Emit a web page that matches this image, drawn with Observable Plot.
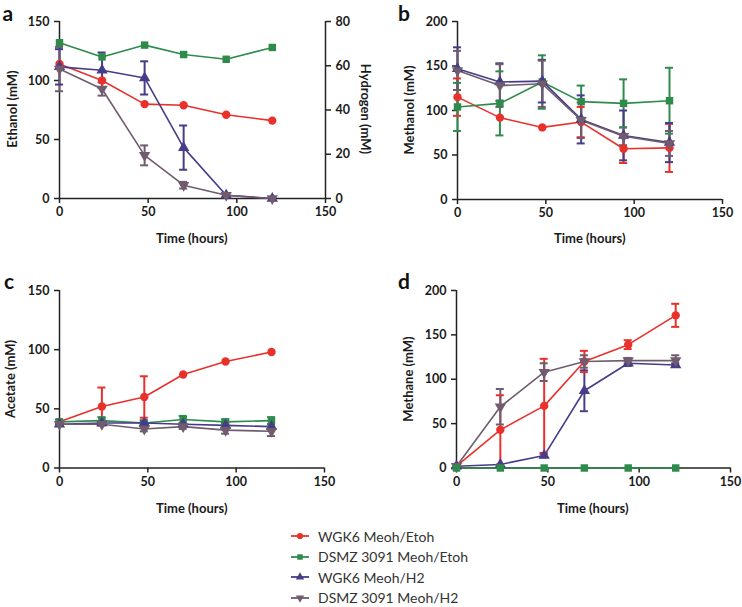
<!DOCTYPE html>
<html>
<head>
<meta charset="utf-8">
<script src="https://cdn.jsdelivr.net/npm/d3@7"></script>
<script src="https://cdn.jsdelivr.net/npm/@observablehq/plot@0.6"></script>
<style>
  body { margin: 0; background: #fff; }
  #root { position: relative; width: 742px; height: 607px; background: #fff; font-family: Lato, "Open Sans", sans-serif; overflow: hidden; }
  .lbl { position: absolute; font-weight: 700; font-size: 13px; color: #1a1a1a; white-space: nowrap; }
  .letter { position: absolute; font-weight: 700; font-size: 21px; color: #111; line-height: 1; }
  .legend { position: absolute; left: 290px; top: 526px; font-size: 14px; color: #333; }
  .legend .row { height: 20.5px; display: flex; align-items: center; }
  .legend svg { margin-right: 8px; }
</style>
</head>
<body>
<div id="root"></div>
<script>
// ---------- data ----------
const times = [0, 24, 48, 70, 94, 120];
const seriesNames = ["WGK6 Meoh/Etoh", "DSMZ 3091 Meoh/Etoh", "WGK6 Meoh/H2", "DSMZ 3091 Meoh/H2"];
const seriesColors = ["#e8312b", "#2f8b4c", "#463c88", "#705c6e"];
const xTicks = [0, 50, 100, 150];

// panel a: ethanol (left axis) and hydrogen (right axis)
const ethanolWGK6 = [114, 100, 80, 79, 71, 66];
const ethanolDSMZ = [132, 120, 130, 122, 118, 128];
const hydrogenWGK6 = [59.5, 58, 54.5, 23, 1.5, 0];
const hydrogenWGK6Err = [8, 8, 7.5, 10, 1, 0];
const hydrogenDSMZ = [58.5, 49.5, 19.5, 6, 1.5, 0];
const hydrogenDSMZErr = [10, 3, 4.5, 1.5, 0.5, 0];
const ethanolTicks = [0, 50, 100, 150];
const hydrogenTicks = [0, 20, 40, 60, 80];

// panel b: methanol
const methanolWGK6Etoh = [115, 92, 81, 87, 57, 58];
const methanolWGK6EtohErr = [21, 0, 0, 17, 16, 27];
const methanolDSMZEtoh = [104, 108, 132, 110, 108, 111];
const methanolDSMZEtohErr = [27, 36, 30, 18, 27, 37];
const methanolWGK6H2 = [147, 132, 133, 90, 72, 64];
const methanolWGK6H2Err = [24, 21, 24, 27, 28, 22];
const methanolDSMZH2 = [145, 128, 130, 89, 71, 63];
const methanolDSMZH2Err = [22, 24, 26, 20, 10, 14];
const methanolTicks = [0, 50, 100, 150, 200];

// panel c: acetate
const acetateWGK6Etoh = [39, 52, 60, 79, 90, 98];
const acetateWGK6EtohErr = [0, 16, 17.5, 0, 0, 0];
const acetateDSMZEtoh = [39, 40, 38, 41, 39, 40];
const acetateDSMZEtohErr = [2, 3, 2, 3, 2, 3];
const acetateWGK6H2 = [37, 38, 38, 37, 36, 35];
const acetateWGK6H2Err = [1, 1, 2, 1, 2, 2];
const acetateDSMZH2 = [37, 37, 33, 35, 32, 31];
const acetateDSMZH2Err = [1, 1, 2, 2, 3, 4];
const acetateTicks = [0, 50, 100, 150];

// panel d: methane
const methaneWGK6Etoh = [2, 43, 70, 120, 139, 172];
const methaneWGK6EtohErr = [0, 39, 53, 12, 5, 13];
const methaneDSMZEtoh = [0, 0, 0, 0, 0, 0];
const methaneDSMZEtohErr = [0, 0, 0, 0, 0, 0];
const methaneWGK6H2 = [2, 4, 14, 87, 118, 116];
const methaneWGK6H2Err = [0, 0, 2, 23, 3, 2];
const methaneDSMZH2 = [2, 69, 108, 120, 121, 121];
const methaneDSMZH2Err = [0, 20, 10, 7, 3, 6];
const methaneTicks = [0, 50, 100, 150, 200];

// ---------- helpers ----------
const sqrt3 = Math.sqrt(3);
const triangleDown = {
  draw(context, size) {
    const y = -Math.sqrt(size / (sqrt3 * 3));
    context.moveTo(0, -y * 2);
    context.lineTo(-sqrt3 * y, y);
    context.lineTo(sqrt3 * y, y);
    context.closePath();
  }
};
const seriesSymbols = [d3.symbolCircle, d3.symbolSquare, d3.symbolTriangle, triangleDown];

function rows(series, values, errs, scale = 1) {
  return values.map((v, i) => ({series, t: times[i], v: v * scale, e: (errs ? errs[i] : 0) * scale}));
}

function panel({data, yMax, yTicks, width, height, left, top, mL, mR, mT, mB, extra = []}) {
  const err = data.filter(d => d.e > 0);
  const p = Plot.plot({
    width, height,
    marginLeft: mL, marginRight: mR, marginTop: mT, marginBottom: mB,
    style: {fontFamily: "Lato, sans-serif", fontSize: "12.5px", fontWeight: "700", color: "#1a1a1a", background: "transparent", overflow: "visible"},
    x: {domain: [0, 150]},
    y: {domain: [0, yMax]},
    color: {domain: seriesNames, range: seriesColors},
    symbol: {domain: seriesNames, range: seriesSymbols},
    marks: [
      Plot.axisX({ticks: xTicks, tickSize: 5, tickPadding: 4, label: null, stroke: "#222", strokeWidth: 1.5}),
      Plot.axisY({ticks: yTicks, tickSize: 5, tickPadding: 5, label: null, stroke: "#222", strokeWidth: 1.5}),
      ...extra,
      Plot.ruleX([0], {stroke: "#222", strokeWidth: 1.5}),
      Plot.ruleY([0], {stroke: "#222", strokeWidth: 1.5}),
      Plot.line(data, {x: "t", y: "v", stroke: "series", strokeWidth: 1.6}),
      Plot.ruleX(err, {x: "t", y1: d => d.v - d.e, y2: d => d.v + d.e, stroke: "series", strokeWidth: 2}),
      Plot.ruleY(err, {y: d => d.v + d.e, x1: "t", x2: "t", insetLeft: -4, insetRight: -4, stroke: "series", strokeWidth: 2}),
      Plot.ruleY(err, {y: d => Math.max(0, d.v - d.e), x1: "t", x2: "t", insetLeft: -4, insetRight: -4, stroke: "series", strokeWidth: 2}),
      Plot.dot(data, {x: "t", y: "v", fill: "series", symbol: "series", r: 4.2, stroke: "none"})
    ]
  });
  p.style.position = "absolute";
  p.style.left = left + "px";
  p.style.top = top + "px";
  return p;
}

const root = document.getElementById("root");
const h2Scale = 150 / 80;

// panel a
const dataA = [
  ...rows(seriesNames[0], ethanolWGK6),
  ...rows(seriesNames[1], ethanolDSMZ),
  ...rows(seriesNames[2], hydrogenWGK6, hydrogenWGK6Err, h2Scale),
  ...rows(seriesNames[3], hydrogenDSMZ, hydrogenDSMZErr, h2Scale)
];
root.appendChild(panel({
  data: dataA, yMax: 150, yTicks: ethanolTicks, width: 371, height: 250, left: 0, top: 0,
  mL: 59, mR: 46, mT: 21, mB: 52,
  extra: [
    Plot.axisY(hydrogenTicks.map(v => v * h2Scale), {anchor: "right", tickSize: 5, tickPadding: 5, label: null,
      tickFormat: d => String(Math.round(d / h2Scale)), stroke: "#222", strokeWidth: 1.5}),
    Plot.ruleX([150], {stroke: "#222", strokeWidth: 1.5})
  ]
}));

// panel b
const dataB = [
  ...rows(seriesNames[0], methanolWGK6Etoh, methanolWGK6EtohErr),
  ...rows(seriesNames[1], methanolDSMZEtoh, methanolDSMZEtohErr),
  ...rows(seriesNames[2], methanolWGK6H2, methanolWGK6H2Err),
  ...rows(seriesNames[3], methanolDSMZH2, methanolDSMZH2Err)
];
root.appendChild(panel({
  data: dataB, yMax: 200, yTicks: methanolTicks, width: 371, height: 250, left: 371, top: 0,
  mL: 86, mR: 20, mT: 21, mB: 51
}));

// panel c
const dataC = [
  ...rows(seriesNames[0], acetateWGK6Etoh, acetateWGK6EtohErr),
  ...rows(seriesNames[1], acetateDSMZEtoh, acetateDSMZEtohErr),
  ...rows(seriesNames[2], acetateWGK6H2, acetateWGK6H2Err),
  ...rows(seriesNames[3], acetateDSMZH2, acetateDSMZH2Err)
];
root.appendChild(panel({
  data: dataC, yMax: 150, yTicks: acetateTicks, width: 371, height: 270, left: 0, top: 250,
  mL: 59, mR: 47, mT: 40, mB: 52.5
}));

// panel d
const dataD = [
  ...rows(seriesNames[0], methaneWGK6Etoh, methaneWGK6EtohErr),
  ...rows(seriesNames[2], methaneWGK6H2, methaneWGK6H2Err),
  ...rows(seriesNames[3], methaneDSMZH2, methaneDSMZH2Err),
  ...rows(seriesNames[1], methaneDSMZEtoh, methaneDSMZEtohErr)
];
root.appendChild(panel({
  data: dataD, yMax: 200, yTicks: methaneTicks, width: 371, height: 270, left: 371, top: 250,
  mL: 85, mR: 12, mT: 40, mB: 52.5
}));

// ---------- text labels ----------
function addLabel(text, cx, cy, rot = 0, cls = "lbl") {
  const el = document.createElement("div");
  el.className = cls;
  el.textContent = text;
  root.appendChild(el);
  const w = el.offsetWidth, h = el.offsetHeight;
  el.style.left = (cx - w / 2) + "px";
  el.style.top = (cy - h / 2) + "px";
  if (rot) el.style.transform = `rotate(${rot}deg)`;
}
addLabel("a", 8, 12, 0, "letter");
addLabel("b", 404, 12, 0, "letter");
addLabel("c", 9, 280, 0, "letter");
addLabel("d", 404, 280, 0, "letter");

addLabel("Ethanol (mM)", 11, 109, -90);
addLabel("Hydrogen (mM)", 366, 109, 90);
addLabel("Methanol (mM)", 408, 110, -90);
addLabel("Acetate (mM)", 10, 379, -90);
addLabel("Methane (mM)", 407, 379, -90);

addLabel("Time (hours)", 192, 238);
addLabel("Time (hours)", 590, 238);
addLabel("Time (hours)", 192, 508);
addLabel("Time (hours)", 593, 508);

// ---------- legend ----------
const legend = document.createElement("div");
legend.className = "legend";
seriesNames.forEach((name, i) => {
  const row = document.createElement("div");
  row.className = "row";
  const svg = d3.create("svg").attr("width", 20).attr("height", 12);
  svg.append("line").attr("x1", 1).attr("x2", 19).attr("y1", 6).attr("y2", 6)
    .attr("stroke", seriesColors[i]).attr("stroke-width", 1.8);
  svg.append("path").attr("transform", "translate(10,6)")
    .attr("d", d3.symbol(seriesSymbols[i], 30)()).attr("fill", seriesColors[i]);
  row.appendChild(svg.node());
  const span = document.createElement("span");
  span.textContent = name;
  row.appendChild(span);
  legend.appendChild(row);
});
root.appendChild(legend);
</script>
</body>
</html>
